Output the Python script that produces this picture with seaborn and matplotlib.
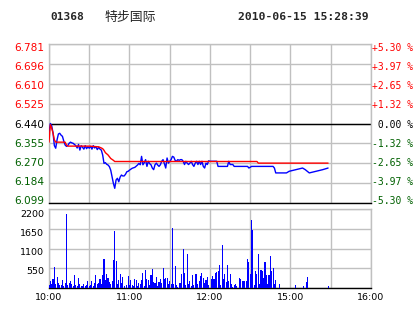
import matplotlib
matplotlib.use("Agg")
import matplotlib.pyplot as plt
import matplotlib.transforms as mtransforms
import seaborn as sns

# ---------------- data ----------------
code = "01368"
name = "特步国际"
stamp = "2010-06-15 15:28:39"
prev_close = 6.440

price_ticks = [6.099, 6.184, 6.270, 6.355, 6.440, 6.525, 6.610, 6.696, 6.781]
price_tick_labels = ["6.099", "6.184", "6.270", "6.355", "6.440", "6.525", "6.610", "6.696", "6.781"]
pct_labels = ["-5.30 %", "-3.97 %", "-2.65 %", "-1.32 %", " 0.00 %",
              "+1.32 %", "+2.65 %", "+3.97 %", "+5.30 %"]
vol_ticks = [0, 550, 1100, 1650, 2200]
vol_tick_labels = ["", "550", "1100", "1650", "2200"]
time_grid = [0, 30, 60, 90, 120, 150, 180, 210, 240]
time_labels = ["10:00", "", "11:00", "", "12:00", "", "15:00", "", "16:00"]

# minutes since 10:00 (trading minutes, lunch break removed)
price_min = [0, 1, 2, 3, 4, 5, 6, 7, 8, 9, 10, 11, 12, 13, 14, 15, 16, 17, 18, 19,
             20, 21, 22, 23, 24, 25, 26, 27, 28, 29, 30, 31, 32, 33, 34, 35, 36, 37, 38, 39,
             40, 41, 42, 43, 44, 45, 46, 47, 48, 49, 50, 51, 52, 53, 54, 55, 56, 57, 58, 59,
             60, 62, 64, 66, 67, 68, 69, 70, 71, 72, 73, 74, 75, 76, 77, 78, 79, 80, 81, 82,
             83, 84, 85, 86, 87, 88, 89, 90, 91, 92, 93, 94, 95, 96, 97, 98, 99, 100, 101, 102,
             103, 104, 105, 106, 107, 108, 109, 110, 111, 112, 113, 114, 115, 116, 117, 118, 119, 120, 121, 125,
             126, 133, 134, 135, 137, 138, 148, 149, 151, 167, 168, 169, 177, 179, 184, 189, 191, 194, 199, 204,
             208]
price_val = [6.400, 6.440, 6.430, 6.400, 6.345, 6.334, 6.370, 6.395, 6.398, 6.390,
             6.385, 6.365, 6.348, 6.342, 6.345, 6.355, 6.360, 6.357, 6.355, 6.350,
             6.345, 6.335, 6.350, 6.326, 6.345, 6.338, 6.330, 6.345, 6.332, 6.340,
             6.334, 6.342, 6.330, 6.345, 6.335, 6.340, 6.328, 6.338, 6.330, 6.326,
             6.305, 6.269, 6.272, 6.265, 6.262, 6.255, 6.240, 6.212, 6.183, 6.162,
             6.198, 6.205, 6.190, 6.210, 6.219, 6.215, 6.215, 6.222, 6.233, 6.235,
             6.240, 6.248, 6.252, 6.262, 6.269, 6.263, 6.299, 6.263, 6.272, 6.285,
             6.256, 6.278, 6.268, 6.263, 6.249, 6.242, 6.263, 6.270, 6.262, 6.256,
             6.263, 6.278, 6.285, 6.268, 6.249, 6.292, 6.270, 6.278, 6.285, 6.299,
             6.296, 6.282, 6.278, 6.285, 6.282, 6.285, 6.285, 6.278, 6.264, 6.278,
             6.270, 6.264, 6.270, 6.278, 6.264, 6.256, 6.270, 6.278, 6.264, 6.278,
             6.264, 6.278, 6.256, 6.249, 6.270, 6.264, 6.280, 6.278, 6.278, 6.278,
             6.256, 6.256, 6.278, 6.264, 6.264, 6.256, 6.256, 6.249, 6.256, 6.256,
             6.249, 6.228, 6.228, 6.235, 6.242, 6.249, 6.242, 6.228, 6.235, 6.242,
             6.249]

avg_min = [0, 1, 2, 3, 4, 5, 12, 13, 14, 30, 37, 39, 40, 41, 42, 44, 46, 48, 49, 155, 156, 208]
avg_val = [6.360, 6.435, 6.420, 6.399, 6.370, 6.360, 6.360, 6.348, 6.343, 6.343, 6.340,
           6.335, 6.332, 6.325, 6.315, 6.305, 6.290, 6.282, 6.277, 6.277, 6.270, 6.270]

volume = [75, 205, 120, 260, 575, 100, 306, 139, 74, 74,
          230, 60, 139, 2060, 74, 139, 186, 111, 60, 360,
          74, 60, 280, 111, 50, 46, 111, 60, 74, 204,
          50, 74, 186, 60, 139, 370, 111, 139, 260, 100,
          371, 810, 232, 390, 278, 167, 100, 204, 770, 1600,
          760, 100, 232, 390, 139, 306, 46, 0, 93, 334,
          74, 232, 74, 50, 251, 232, 60, 139, 111, 232,
          427, 46, 492, 251, 232, 80, 371, 520, 167, 139,
          297, 60, 167, 251, 139, 557, 251, 278, 278, 100,
          204, 111, 1660, 111, 613, 74, 30, 139, 139, 390,
          1090, 418, 70, 947, 111, 204, 46, 353, 74, 390,
          390, 111, 204, 325, 408, 278, 139, 232, 306, 74,
          0, 260, 325, 260, 418, 445, 483, 631, 74, 1206,
          250, 390, 167, 631, 204, 399, 111, 37, 74, 111,
          46, 0, 278, 251, 204, 186, 204, 204, 808, 715,
          390, 1894, 1624, 74, 464, 399, 947, 111, 510, 483,
          278, 724, 371, 111, 371, 900, 464, 557, 111, 232,
          0, 0, 111, 0, 0, 0, 0, 0, 0, 0,
          0, 0, 0, 0, 84, 0, 0, 0, 0, 0,
          46, 0, 167, 306, 0, 0, 0, 0, 0, 0,
          0, 0, 0, 0, 0, 0, 0, 0, 65]

# ---------------- style ----------------
sns.set_style("white")
plt.rcParams['font.family'] = ['DejaVu Sans', 'Noto Sans CJK SC']

RED = "#ff0000"
GREEN = "#006000"
GRID = "#c0c0c0"
W, H = 414, 314

fig = plt.figure(figsize=(W / 100, H / 100), dpi=100)
fig.patch.set_facecolor("white")

ax = fig.add_axes([49 / W, 1 - 203 / H, 322 / W, 159 / H])
axv = fig.add_axes([49 / W, 1 - 288 / H, 322 / W, 79 / H])

# ---------------- price panel ----------------
sns.lineplot(x=price_min, y=price_val, ax=ax, color="#0000ff", lw=1.0,
             estimator=None, sort=False, zorder=3)
sns.lineplot(x=avg_min, y=avg_val, ax=ax, color=RED, lw=1.0,
             estimator=None, sort=False, zorder=4)
ax.axhline(prev_close, color="black", lw=1.0, zorder=2)

ax.set_xlim(0, 240)
ax.set_ylim(price_ticks[0], price_ticks[-1])
ax.set_xticks(time_grid)
ax.set_xticklabels([])
ax.set_yticks(price_ticks)
ax.set_yticklabels(price_tick_labels)
ax.grid(True, color=GRID, lw=1.0, zorder=0)
ax.tick_params(axis="both", length=0)
ax.tick_params(axis="y", pad=3.5, labelsize=7.6)
ax.set_xlabel("")
ax.set_ylabel("")
for s in ["top", "left", "right"]:
    ax.spines[s].set_color(GRID)
    ax.spines[s].set_linewidth(1.0)
ax.spines["bottom"].set_color("black")
ax.spines["bottom"].set_linewidth(1.0)

span = price_ticks[-1] - price_ticks[0]
for v, lbl in zip(price_ticks, ax.get_yticklabels()):
    if v > prev_close + 1e-9:
        lbl.set_color(RED)
    elif v < prev_close - 1e-9:
        lbl.set_color(GREEN)
    else:
        lbl.set_color("black")
    dy = (-3 + 6 * (price_ticks[-1] - v) / span) / 100
    lbl.set_transform(lbl.get_transform() +
                      mtransforms.ScaledTranslation(0, dy, fig.dpi_scale_trans))

ax2 = ax.twinx()
ax2.set_ylim(price_ticks[0], price_ticks[-1])
ax2.set_yticks(price_ticks)
ax2.set_yticklabels(pct_labels, family="DejaVu Sans Mono", fontsize=7.0)
ax2.tick_params(axis="y", length=0, pad=1)
for s in ax2.spines.values():
    s.set_visible(False)
for v, lbl in zip(price_ticks, ax2.get_yticklabels()):
    if v > prev_close + 1e-9:
        lbl.set_color(RED)
    elif v < prev_close - 1e-9:
        lbl.set_color(GREEN)
    else:
        lbl.set_color("black")
    dy = (-3 + 6 * (price_ticks[-1] - v) / span) / 100
    lbl.set_transform(lbl.get_transform() +
                      mtransforms.ScaledTranslation(0, dy, fig.dpi_scale_trans))

# ---------------- volume panel ----------------
vol_min = [i for i, v in enumerate(volume) if v > 0]
vol_val = [v for v in volume if v > 0]
sns.barplot(x=vol_min, y=vol_val, ax=axv, native_scale=True, color="#0000ff",
            saturation=1, width=0.8, errorbar=None, linewidth=0, zorder=3)
for p in axv.patches:
    p.set_antialiased(False)
axv.set_xlim(0, 240)
axv.set_ylim(0, 2200)
axv.set_xticks(time_grid)
axv.set_xticklabels(time_labels)
axv.set_yticks(vol_ticks)
axv.set_yticklabels(vol_tick_labels)
axv.grid(True, color=GRID, lw=1.0, zorder=0)
axv.set_axisbelow(True)
axv.tick_params(axis="both", length=0, labelsize=6.8, colors="black")
axv.tick_params(axis="y", pad=3.5)
axv.tick_params(axis="x", pad=3.5)
axv.set_xlabel("")
axv.set_ylabel("")
for s in ["top", "left", "right"]:
    axv.spines[s].set_color(GRID)
    axv.spines[s].set_linewidth(1.0)
axv.spines["bottom"].set_color("black")
axv.spines["bottom"].set_linewidth(1.0)
for v, lbl in zip(vol_ticks, axv.get_yticklabels()):
    dy = -(1.8 + 0.9 * (v - 550) / 550) / 100
    lbl.set_transform(lbl.get_transform() +
                      mtransforms.ScaledTranslation(0, dy, fig.dpi_scale_trans))

# ---------------- header ----------------
fig.text(50 / W, 1 - 17 / H, code, family="DejaVu Sans Mono", weight="bold",
         fontsize=8.0, va="center", ha="left")
fig.text(105 / W, 1 - 17 / H, name, family=["Noto Sans CJK SC", "DejaVu Sans"],
         fontsize=9.3, va="center", ha="left")
fig.text(238 / W, 1 - 17 / H, stamp, family="DejaVu Sans Mono", weight="bold",
         fontsize=8.2, va="center", ha="left")

fig.savefig("out.png", dpi=100, facecolor="white")
